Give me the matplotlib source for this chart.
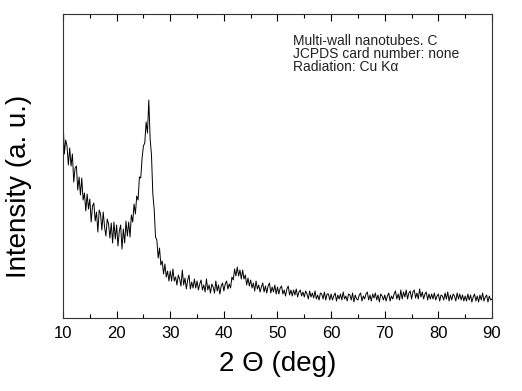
import numpy as np
import matplotlib
matplotlib.use('Agg')
import matplotlib.pyplot as plt
from matplotlib.ticker import MultipleLocator

plt.rcParams['font.family'] = ['Liberation Sans', 'DejaVu Sans']

# 2-theta scan, 0.25 deg step from 10 to 90 deg
two_theta = np.arange(10.0, 90.01, 0.25)

# intensity (arbitrary units) (5 deg per row)
intensity = np.array([
    200, 164, 178, 172, 153, 170, 152, 164, 136, 150, 152, 128, 141, 123, 140, 118, 125, 107, 124, 109,  # 10-15
    119, 96, 112, 115, 97, 106, 86, 108, 104, 88, 106, 91, 82, 99, 94, 80, 95, 75, 96, 79,              # 15-20
    93, 72, 87, 93, 69, 89, 75, 97, 82, 96, 81, 103, 96, 114, 104, 122, 118, 141, 140, 160,             # 20-25
    172, 175, 196, 185, 218, 179, 163, 124, 109, 81, 78, 60, 70, 53, 57, 44, 54, 41, 47, 37,            # 25-30
    47, 37, 49, 37, 41, 33, 43, 39, 32, 48, 33, 40, 29, 38, 43, 29, 36, 30, 39, 30,                     # 30-35
    37, 28, 34, 38, 28, 33, 26, 39, 28, 33, 25, 34, 31, 25, 37, 27, 33, 24, 32, 35,                     # 35-40
    27, 34, 37, 29, 34, 30, 41, 38, 49, 42, 51, 42, 48, 39, 48, 39, 43, 33, 40, 32,                     # 40-45
    38, 30, 35, 27, 37, 29, 33, 26, 31, 35, 26, 32, 25, 32, 35, 25, 31, 26, 33, 24,                     # 45-50
    31, 24, 30, 32, 24, 28, 22, 29, 32, 23, 28, 22, 28, 23, 29, 21, 26, 28, 22, 26,                     # 50-55
    21, 27, 24, 19, 27, 21, 25, 20, 27, 19, 23, 18, 25, 24, 19, 26, 18, 24, 24, 18,                     # 55-60
    24, 18, 22, 25, 17, 23, 19, 24, 18, 26, 19, 22, 17, 24, 23, 18, 25, 16, 23, 19,                     # 60-65
    18, 23, 25, 17, 22, 19, 24, 26, 18, 23, 17, 24, 20, 25, 18, 23, 16, 24, 22, 18,                     # 65-70
    23, 17, 22, 25, 17, 22, 19, 24, 27, 19, 24, 18, 28, 19, 26, 21, 28, 19, 25, 27,                     # 70-75
    19, 26, 28, 20, 25, 19, 29, 21, 26, 19, 24, 26, 18, 24, 19, 24, 19, 25, 18, 22,                     # 75-80
    24, 17, 23, 22, 18, 25, 19, 26, 17, 23, 18, 24, 22, 17, 25, 19, 24, 18, 23, 17,                     # 80-85
    22, 17, 24, 18, 23, 16, 21, 24, 17, 22, 16, 23, 18, 25, 17, 21, 23, 16, 22, 18,                     # 85-90
    19,
])

info_lines = ['Multi-wall nanotubes. C', 'JCPDS card number: none', 'Radiation: Cu K\u03b1']

fig = plt.figure(figsize=(5.22, 3.91), dpi=100)
ax = fig.add_axes([0.1207, 0.1867, 0.8218, 0.7775])

ax.plot(two_theta, intensity, color='black', linewidth=0.7)

ax.set_xlim(10, 90)
ax.set_ylim(0, 304)
ax.xaxis.set_major_locator(MultipleLocator(10))
ax.xaxis.set_minor_locator(MultipleLocator(5))
ax.tick_params(axis='x', which='both', direction='in', top=True, labelsize=12, pad=6)
ax.tick_params(axis='x', which='major', length=5, width=0.8)
ax.tick_params(axis='x', which='minor', length=3, width=0.8)
ax.set_yticks([])

for sp in ax.spines.values():
    sp.set_linewidth(0.8)
    sp.set_color('#333333')

ax.set_xlabel('2 \u0398 (deg)', fontsize=20, labelpad=7)
ax.set_ylabel('Intensity (a. u.)', fontsize=20)
ax.yaxis.set_label_coords(-0.072, 0.434)

for i, line in enumerate(info_lines):
    ax.text(0.536, 0.898 - i * 0.043, line, transform=ax.transAxes,
            fontsize=10, va='baseline', ha='left', color='#222222')

fig.savefig('out.png', dpi=100)
